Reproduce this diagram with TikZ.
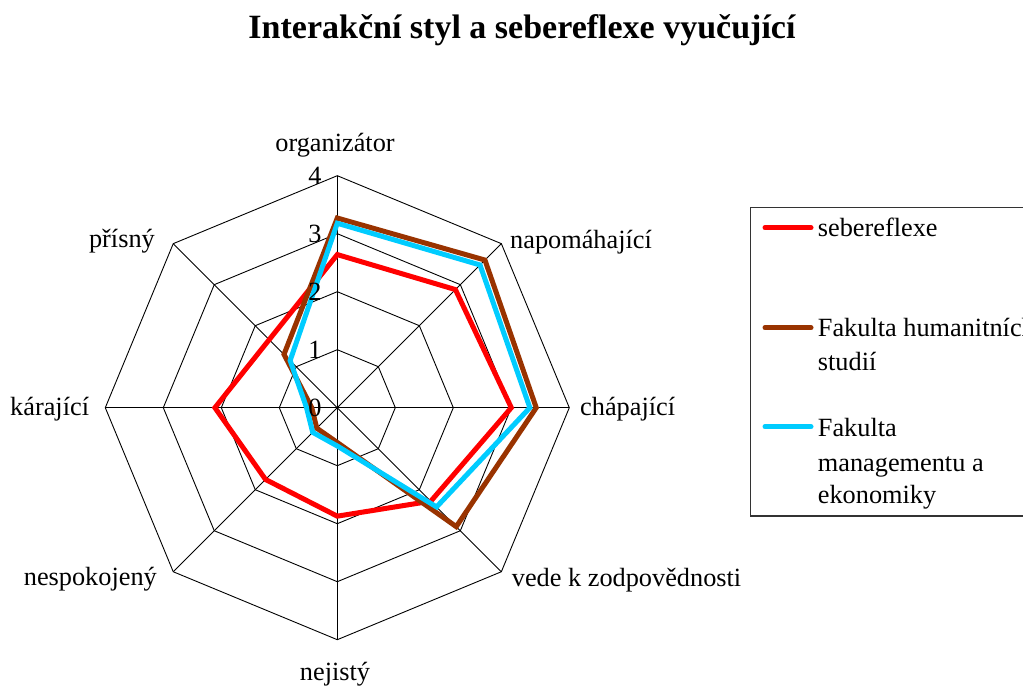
\documentclass[tikz,border=0pt]{standalone}
\usepackage{fontspec}
\setmainfont{Liberation Serif}
\newfontfamily\chartfont{Liberation Serif}
\begin{document}
\begin{tikzpicture}[x=1pt,y=1pt,
  gridline/.style={black, line width=0.9pt},
  series/.style={line width=5pt, line join=miter, miter limit=4},
  lbl/.style={font=\chartfont\fontsize{26.3}{35}\selectfont, inner sep=0pt},
  ticklbl/.style={font=\chartfont\fontsize{26.3}{35}\selectfont, inner sep=0pt, anchor=east},
  legline/.style={line width=5pt, line cap=round},
  ]
\definecolor{selfred}{HTML}{FF0000}
\definecolor{fhsbrown}{HTML}{993300}
\definecolor{fmecyan}{HTML}{00CCFF}
\def\u{58}
\useasboundingbox (0,0) rectangle (1023,686);
\fill[white] (0,0) rectangle (1023,686);

% title
\node[font=\chartfont\bfseries\fontsize{34}{40}\selectfont, anchor=base, inner sep=0pt] (title)
  at (522,647) {Interakční styl a sebereflexe vyučující};

% radar chart, centred on the common origin of the eight axes
\begin{scope}[shift={(337.3,278.3)}]
  \coordinate (c) at (0,0);
  % concentric octagons for the values 1..4
  \foreach \r in {1,2,3,4}
    \draw[gridline] (0:\r*\u) \foreach \a in {45,90,...,315} { -- (\a:\r*\u) } -- cycle;
  % spokes
  \foreach \a in {0,45,...,315} {
    \coordinate (tip\a) at (\a:4*\u);
    \draw[gridline] (c) -- (tip\a);
  }

  % data series (order: organizátor, napomáhající, chápající, vede k zodpovědnosti,
  % nejistý, nespokojený, kárající, přísný)
  \draw[series, selfred]
    (90:2.64*\u) -- (45:2.88*\u) -- (0:3.00*\u) -- (-45:2.28*\u) --
    (-90:1.87*\u) -- (-135:1.75*\u) -- (180:2.11*\u) -- (135:1.66*\u) -- cycle;
  \draw[series, fhsbrown]
    (90:3.27*\u) -- (45:3.60*\u) -- (0:3.43*\u) -- (-45:2.90*\u) --
    (-90:0.60*\u) -- (-135:0.50*\u) -- (180:0.44*\u) -- (135:1.30*\u) -- cycle;
  \draw[series, fmecyan]
    (90:3.18*\u) -- (45:3.48*\u) -- (0:3.32*\u) -- (-45:2.42*\u) --
    (-90:0.66*\u) -- (-135:0.60*\u) -- (180:0.53*\u) -- (135:1.15*\u) -- cycle;

  % scale values along the vertical axis
  \foreach \r in {0,1,2,3,4}
    \node[ticklbl] (tick\r) at (-15.5,\r*\u) {\r};
\end{scope}

% axis labels
\node[lbl, anchor=base] (organizator) at (335,534.3) {organizátor};
\node[lbl, anchor=base west] (napomahajici) at (510,437.7) {napomáhající};
\node[lbl, anchor=base west] (chapajici) at (580,270) {chápající};
\node[lbl, anchor=base west] (vede) at (511.7,99.3) {vede k zodpovědnosti};
\node[lbl, anchor=base] (nejisty) at (335,6) {nejistý};
\node[lbl, anchor=base east] (nespokojeny) at (157,101) {nespokojený};
\node[lbl, anchor=base west] (karajici) at (10,270) {kárající};
\node[lbl, anchor=base east] (prisny) at (155,438) {přísný};

% legend
\draw[line width=1.3pt, black!80] (750.7,478.3) rectangle (1045,170);
\coordinate (l1a) at (765,458.3); \coordinate (l1b) at (811,458.3);
\coordinate (l2a) at (765,358.3); \coordinate (l2b) at (811,358.3);
\coordinate (l3a) at (765,259.3); \coordinate (l3b) at (811,259.3);
\draw[legline, selfred] (l1a) -- (l1b);
\draw[legline, fhsbrown] (l2a) -- (l2b);
\draw[legline, fmecyan] (l3a) -- (l3b);
\node[lbl, anchor=base west] (leg1) at (817.7,449.3) {sebereflexe};
\node[lbl, anchor=base west] (leg2) at (817.7,349.3) {Fakulta humanitních};
\node[lbl, anchor=base west] (leg2b) at (817.7,315) {studií};
\node[lbl, anchor=base west] (leg3) at (817.7,249.3) {Fakulta};
\node[lbl, anchor=base west] (leg3b) at (817.7,214.3) {managementu a};
\node[lbl, anchor=base west] (leg3c) at (817.7,182) {ekonomiky};
\end{tikzpicture}
\end{document}
